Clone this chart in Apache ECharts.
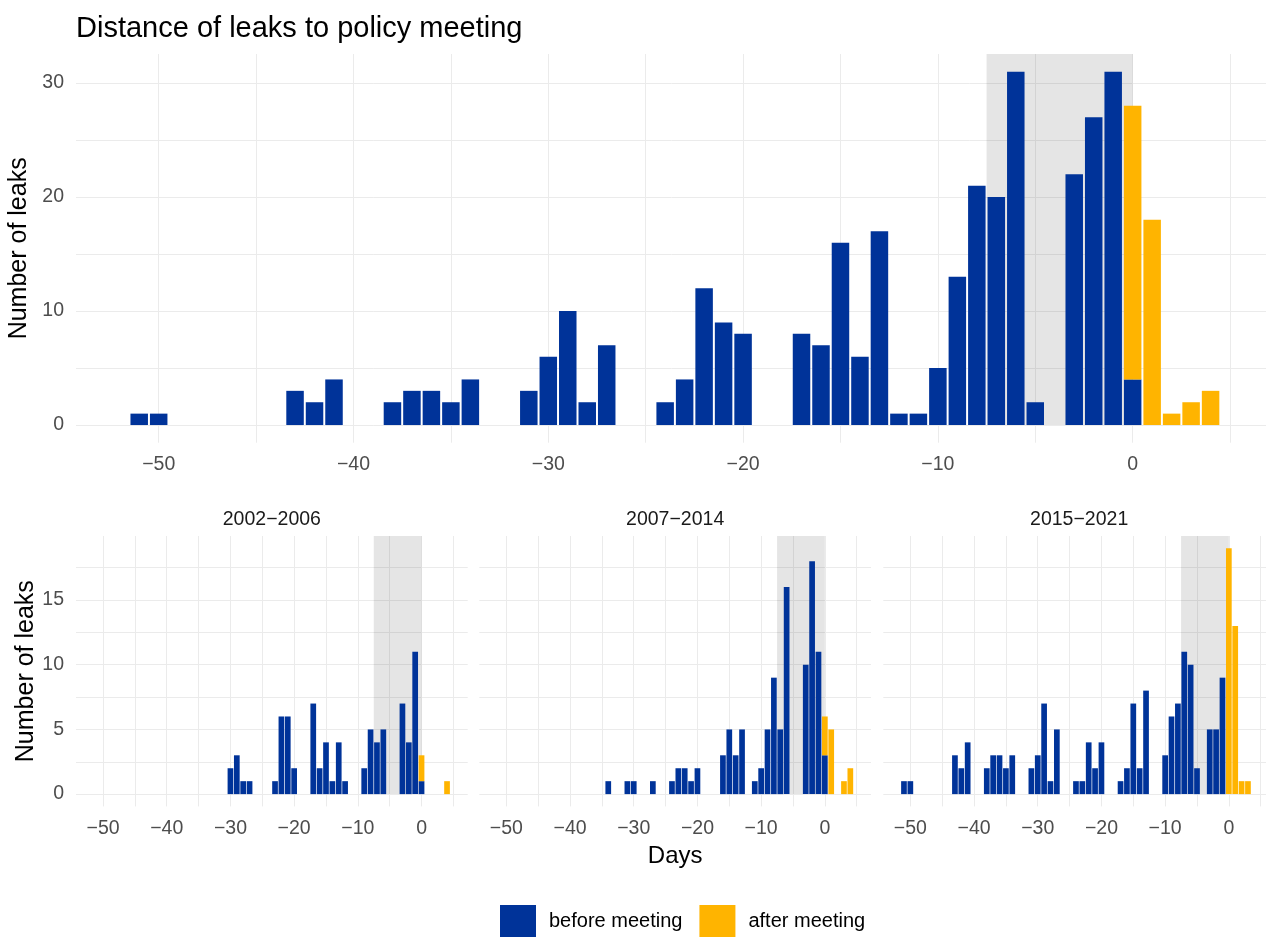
<!DOCTYPE html>
<html>
<head>
<meta charset="utf-8">
<script src="https://cdn.jsdelivr.net/npm/echarts@6/dist/echarts.min.js"></script>
<style>
  html, body { margin: 0; padding: 0; background: #fff; }
  #chart { width: 1266px; height: 937px; }
</style>
</head>
<body>
<div id="chart"></div>
<script>
// days relative to the policy meeting
const days = [
  -51, -50, -49, -48, -47, -46, -45, -44, -43, -42,
  -41, -40, -39, -38, -37, -36, -35, -34, -33, -32,
  -31, -30, -29, -28, -27, -26, -25, -24, -23, -22,
  -21, -20, -19, -18, -17, -16, -15, -14, -13, -12,
  -11, -10, -9, -8, -7, -6, -5, -4, -3, -2,
  -1, 0, 1, 2, 3, 4
]

// all years
const allBefore = [
  1, 1, 0, 0, 0, 0, 0, 0, 3, 2,
  4, 0, 0, 2, 3, 3, 2, 4, 0, 0,
  3, 6, 10, 2, 7, 0, 0, 2, 4, 12,
  9, 8, 0, 0, 8, 7, 16, 6, 17, 1,
  1, 5, 13, 21, 20, 31, 2, 0, 22, 27,
  31, 4, 0, 0, 0, 0
]
const allAfter = [
  0, 0, 0, 0, 0, 0, 0, 0, 0, 0,
  0, 0, 0, 0, 0, 0, 0, 0, 0, 0,
  0, 0, 0, 0, 0, 0, 0, 0, 0, 0,
  0, 0, 0, 0, 0, 0, 0, 0, 0, 0,
  0, 0, 0, 0, 0, 0, 0, 0, 0, 0,
  0, 24, 18, 1, 2, 3
]

// 2002-2006
const p1Before = [
  0, 0, 0, 0, 0, 0, 0, 0, 0, 0,
  0, 0, 0, 0, 0, 0, 0, 0, 0, 0,
  0, 2, 3, 1, 1, 0, 0, 0, 1, 6,
  6, 2, 0, 0, 7, 2, 4, 1, 4, 1,
  0, 0, 2, 5, 4, 5, 0, 0, 7, 4,
  11, 1, 0, 0, 0, 0
]
const p1After = [
  0, 0, 0, 0, 0, 0, 0, 0, 0, 0,
  0, 0, 0, 0, 0, 0, 0, 0, 0, 0,
  0, 0, 0, 0, 0, 0, 0, 0, 0, 0,
  0, 0, 0, 0, 0, 0, 0, 0, 0, 0,
  0, 0, 0, 0, 0, 0, 0, 0, 0, 0,
  0, 2, 0, 0, 0, 1
]

// 2007-2014
const p2Before = [
  0, 0, 0, 0, 0, 0, 0, 0, 0, 0,
  0, 0, 0, 0, 0, 0, 0, 1, 0, 0,
  1, 1, 0, 0, 1, 0, 0, 1, 2, 2,
  1, 2, 0, 0, 0, 3, 5, 3, 5, 0,
  1, 2, 5, 9, 5, 16, 0, 0, 10, 18,
  11, 3, 0, 0, 0, 0
]
const p2After = [
  0, 0, 0, 0, 0, 0, 0, 0, 0, 0,
  0, 0, 0, 0, 0, 0, 0, 0, 0, 0,
  0, 0, 0, 0, 0, 0, 0, 0, 0, 0,
  0, 0, 0, 0, 0, 0, 0, 0, 0, 0,
  0, 0, 0, 0, 0, 0, 0, 0, 0, 0,
  0, 3, 5, 0, 1, 2
]

// 2015-2021
const p3Before = [
  1, 1, 0, 0, 0, 0, 0, 0, 3, 2,
  4, 0, 0, 2, 3, 3, 2, 3, 0, 0,
  2, 3, 7, 1, 5, 0, 0, 1, 1, 4,
  2, 4, 0, 0, 1, 2, 7, 2, 8, 0,
  0, 3, 6, 7, 11, 10, 2, 0, 5, 5,
  9, 0, 0, 0, 0, 0
]
const p3After = [
  0, 0, 0, 0, 0, 0, 0, 0, 0, 0,
  0, 0, 0, 0, 0, 0, 0, 0, 0, 0,
  0, 0, 0, 0, 0, 0, 0, 0, 0, 0,
  0, 0, 0, 0, 0, 0, 0, 0, 0, 0,
  0, 0, 0, 0, 0, 0, 0, 0, 0, 0,
  0, 19, 13, 1, 1, 0
]

const periods = ['2002−2006', '2007−2014', '2015−2021']
const xTicks = [-50, -45, -40, -35, -30, -25, -20, -15, -10, -5, 0, 5]
const xLabels = [-50, -40, -30, -20, -10, 0]
const topYTicks = [0, 5, 10, 15, 20, 25, 30]
const topYLabels = [0, 10, 20, 30]
const facetYTicks = [0, 2.5, 5, 7.5, 10, 12.5, 15, 17.5]
const facetYLabels = [0, 5, 10, 15]
const shadeFrom = -7.5
const shadeTo = 0

const BLUE = '#003399'
const YELLOW = '#FFB400'
const GRID = '#EBEBEB'
const X_MIN = -54.245
const X_MAX = 7.245
const TOP_Y = [-1.55, 32.55]
const FACET_Y = [-0.95, 19.95]

const minus = v => String(v).replace('-', '\u2212')

function xAxis (gridIndex, extra) {
  return Object.assign({
    type: 'value',
    gridIndex,
    min: X_MIN,
    max: X_MAX,
    axisLine: { show: false },
    axisTick: { show: false, customValues: xTicks },
    splitLine: { show: true, lineStyle: { color: GRID, width: 1 } },
    axisLabel: { customValues: xLabels, formatter: minus, color: '#4D4D4D', fontSize: 19.5, margin: 12 }
  }, extra || {})
}

function yAxis (gridIndex, range, ticks, labels, showLabels, extra) {
  return Object.assign({
    type: 'value',
    gridIndex,
    min: range[0],
    max: range[1],
    axisLine: { show: false },
    axisTick: { show: false, customValues: ticks },
    splitLine: { show: true, lineStyle: { color: GRID, width: 1 } },
    axisLabel: { show: showLabels, customValues: labels, color: '#4D4D4D', fontSize: 19.5, margin: 12, padding: [3, 0, 0, 0] }
  }, extra || {})
}

const yName = {
  name: 'Number of leaks',
  nameLocation: 'middle',
  nameGap: 35,
  nameTextStyle: { color: '#000', fontSize: 25 }
}

// value first so that the stack is computed on the count, not on the day
function pair (arr) {
  return days.map((d, i) => [arr[i], d])
}

function barPair (idx, before, after, width, yMax) {
  return [{
    name: 'before meeting',
    type: 'bar',
    xAxisIndex: idx,
    yAxisIndex: idx,
    stack: 's' + idx,
    barWidth: width,
    encode: { x: 1, y: 0 },
    itemStyle: { color: BLUE },
    data: pair(before),
    markArea: {
      silent: true,
      itemStyle: { color: 'rgba(0,0,0,0.1)' },
      data: [[{ xAxis: shadeFrom, yAxis: 0 }, { xAxis: shadeTo, yAxis: yMax }]]
    }
  }, {
    name: 'after meeting',
    type: 'bar',
    xAxisIndex: idx,
    yAxisIndex: idx,
    stack: 's' + idx,
    barWidth: width,
    encode: { x: 1, y: 0 },
    itemStyle: { color: YELLOW },
    data: pair(after)
  }]
}

const facetLefts = [76, 479.3, 883.3]
const facetWidth = 391.7

const option = {
  animation: false,
  backgroundColor: '#fff',
  textStyle: { fontFamily: 'Liberation Sans, Arial, sans-serif' },
  title: [
    { text: 'Distance of leaks to policy meeting', left: 76, top: 14, padding: 0,
      textStyle: { fontSize: 29, fontWeight: 'normal', color: '#000' } }
  ].concat(periods.map((p, i) => ({
    text: p, left: facetLefts[i] + facetWidth / 2, top: 510, padding: 0, textAlign: 'center',
    textStyle: { fontSize: 19.5, fontWeight: 'normal', color: '#1A1A1A' }
  }))),
  legend: {
    left: 500,
    top: 905,
    padding: 0,
    icon: 'rect',
    itemWidth: 36,
    itemHeight: 32,
    itemGap: 17,
    data: ['before meeting', 'after meeting'],
    textStyle: { fontSize: 20, color: '#000', padding: [3, 0, 0, 8] }
  },
  grid: [
    { left: 76, top: 54, width: 1197.8, height: 388.7, outerBoundsMode: 'none' },
    { left: facetLefts[0], top: 536, width: facetWidth, height: 270.4, outerBoundsMode: 'none' },
    { left: facetLefts[1], top: 536, width: facetWidth, height: 270.4, outerBoundsMode: 'none' },
    { left: facetLefts[2], top: 536, width: facetWidth, height: 270.4, outerBoundsMode: 'none' }
  ],
  xAxis: [
    xAxis(0),
    xAxis(1),
    xAxis(2, { name: 'Days', nameLocation: 'middle', nameGap: 38, nameTextStyle: { color: '#000', fontSize: 24 } }),
    xAxis(3)
  ],
  yAxis: [
    yAxis(0, TOP_Y, topYTicks, topYLabels, true, yName),
    yAxis(1, FACET_Y, facetYTicks, facetYLabels, true, yName),
    yAxis(2, FACET_Y, facetYTicks, facetYLabels, false),
    yAxis(3, FACET_Y, facetYTicks, facetYLabels, false)
  ],
  series: [].concat(
    barPair(0, allBefore, allAfter, 17.5, TOP_Y[1]),
    barPair(1, p1Before, p1After, 5.7, FACET_Y[1]),
    barPair(2, p2Before, p2After, 5.7, FACET_Y[1]),
    barPair(3, p3Before, p3After, 5.7, FACET_Y[1])
  )
}

const chart = echarts.init(document.getElementById('chart'))
chart.setOption(option)
</script>
</body>
</html>
